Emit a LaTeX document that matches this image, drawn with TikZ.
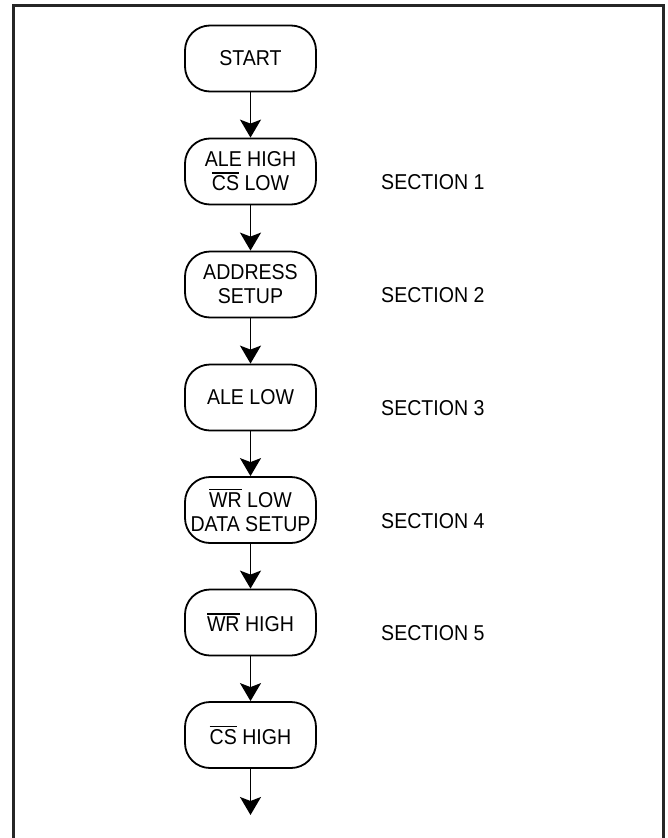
\documentclass[tikz,border=0pt]{standalone}
\usepackage{fontspec}
\setmainfont[FakeStretch=0.91]{Liberation Sans}
\usetikzlibrary{arrows.meta}
\newcommand{\ovl}[1]{\leavevmode\vbox{\hrule height 1.3pt \kern 2.2pt \hbox{#1}}}
\begin{document}
\begin{tikzpicture}[x=1pt,y=-1pt,
  flowbox/.style={draw, line width=1.8pt, rounded corners=25pt, minimum width=131pt, minimum height=66pt, inner sep=0pt, align=center, font=\fontsize{21.5}{24}\selectfont},
  seclabel/.style={anchor=west, inner sep=0pt, font=\fontsize{21.5}{24}\selectfont},
  flowarrow/.style={line width=1.8pt, -{Stealth[length=18pt,width=21pt,inset=4pt]}}]
\useasboundingbox (0,0) rectangle (667,838);
\draw[line width=3pt, color=black!85] (13.5,845) -- (13.5,5.5) -- (663.5,5.5) -- (663.5,845);
\node[flowbox] (b0) at (250.5,58.5) {START};
\node[flowbox] (b1) at (250.5,171.5) {ALE HIGH\\\ovl{CS} LOW};
\node[flowbox] (b2) at (250.5,284.5) {ADDRESS\\SETUP};
\node[flowbox] (b3) at (250.5,397.5) {ALE LOW};
\node[flowbox] (b4) at (250.5,510) {\ovl{WR} LOW\\DATA SETUP};
\node[flowbox] (b5) at (250.5,622.5) {\ovl{WR} HIGH};
\node[flowbox] (b6) at (250.5,735) {\ovl{CS} HIGH};
\coordinate (end) at (250.5,815);
\draw[flowarrow] (b0) -- (b1);
\draw[flowarrow] (b1) -- (b2);
\draw[flowarrow] (b2) -- (b3);
\draw[flowarrow] (b3) -- (b4);
\draw[flowarrow] (b4) -- (b5);
\draw[flowarrow] (b5) -- (b6);
\draw[flowarrow] (b6) -- (end);
\node[seclabel] (s1) at (381,182) {SECTION 1};
\node[seclabel] (s2) at (381,295) {SECTION 2};
\node[seclabel] (s3) at (381,408) {SECTION 3};
\node[seclabel] (s4) at (381,521) {SECTION 4};
\node[seclabel] (s5) at (381,633) {SECTION 5};
\end{tikzpicture}
\end{document}
